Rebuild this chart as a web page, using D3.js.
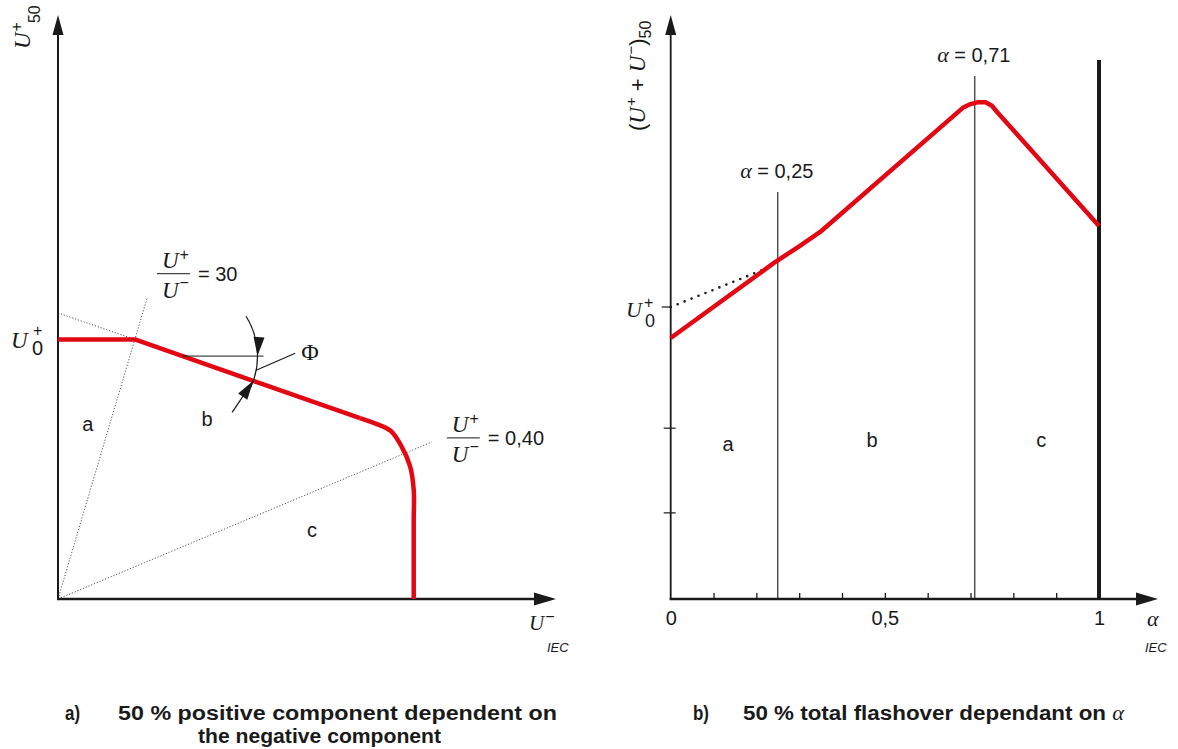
<!DOCTYPE html>
<html>
<head>
<meta charset="utf-8">
<style>
	body { margin: 0; background: #fff; }
	.sans { font-family: "Liberation Sans", Arial, sans-serif; fill: #1a1a1a; }
	.ital { font-family: "Liberation Serif", "Times New Roman", serif; font-style: italic; fill: #1a1a1a; }
	.cap { font-family: "Liberation Sans Narrow", "Arial Narrow", "Liberation Sans", sans-serif; font-weight: bold; fill: #1a1a1a; }
</style>
<title></title>
</head>
<body>
<div id="chart"></div>
<script src="https://d3js.org/d3.v7.min.js"></script>
<script type="text/javascript">

	// ---- a) U+ against U- (normalised: U0+ = 1, cut-off U- = 1)
	var curveA = [[0, 1], [0.216, 1], [0.849, 0.697], [0.900, 0.672], [0.935, 0.648],
		[0.965, 0.590], [0.990, 0.510], [1.0, 0.420], [1.0, 0.3], [1.0, 0]];
	var tangentA = [[0, 1.102], [0.216, 1]];
	var ratioLabels = ["30", "0,40"];
	var ratioEnds = [[0.25, 1.157], [1.051, 0.605]];
	var regionsA = ["a", "b", "c"];

	// ---- b) total 50 % flashover against alpha
	var curveB = [[0, 0.894], [0.244, 1.154], [0.300, 1.208], [0.349, 1.257], [0.682, 1.682],
		[0.700, 1.695], [0.716, 1.701], [0.735, 1.701], [0.750, 1.689], [0.762, 1.668], [1.0, 1.277]];
	var dottedB = [[0, 1.0], [0.22, 1.13]];
	var alphaMarks = [0.25, 0.71];
	var alphaLabels = ["0,25", "0,71"];
	var alphaTops = [1.394, 1.791];
	var endTop = 1.846;
	var xTicksB = [0.1, 0.2, 0.3, 0.4, 0.5, 0.6, 0.7, 0.8, 0.9];
	var xLabelsB = [0, 0.5, 1];
	var yTicksB = [0.295, 0.585];
	var regionsB = ["a", "b", "c"];

	var ink = "#1a1a1a", red = "#e30613";

	var svg = d3.select("#chart").append("svg")
		.attr("width", 1178)
		.attr("height", 749);

	var xA = d3.scaleLinear().domain([0, 1.4]).range([58, 556]);
	var yA = d3.scaleLinear().domain([0, 2.25]).range([599, 15]);
	var xB = d3.scaleLinear().domain([0, 1]).range([670.7, 1099]);
	var yB = d3.scaleLinear().domain([0, 2]).range([599, 15]);

	var comma = d3.formatLocale({decimal: ",", thousands: ".", grouping: [3], currency: ["", ""]}).format("~g");

	function arrow(g, x, y, ang, len, hw) {
		var c = Math.cos(ang), s = Math.sin(ang);
		var bx = x - len * c, by = y - len * s;
		g.append("path")
			.attr("d", "M" + x + "," + y + "L" + (bx - hw * s) + "," + (by + hw * c) +
				"L" + (bx + hw * s) + "," + (by - hw * c) + "Z")
			.attr("fill", ink);
	}

	function seg(g, x1, y1, x2, y2, w) {
		return g.append("line")
			.attr("x1", x1).attr("y1", y1).attr("x2", x2).attr("y2", y2)
			.attr("stroke", ink).attr("stroke-width", w);
	}

	//========== panel a
	var ga = svg.append("g");

	// dotted helper lines
	var lineA = d3.line().x(function(d){ return xA(d[0]); }).y(function(d){ return yA(d[1]); });
	ratioEnds.forEach(function(e){
		ga.append("path").attr("d", lineA([[0, 0], e]))
			.attr("fill", "none").attr("stroke", "#555").attr("stroke-width", 1)
			.attr("stroke-dasharray", "1.2,1.8");
	});
	ga.append("path").attr("d", lineA(tangentA))
		.attr("fill", "none").attr("stroke", "#555").attr("stroke-width", 1)
		.attr("stroke-dasharray", "1.2,1.8");

	// axes
	seg(ga, xA(0), yA(0) + 1, xA(0), 30, 2);
	arrow(ga, xA(0), 15, -Math.PI / 2, 20, 5.5);
	seg(ga, xA(0) - 1, yA(0), 540, yA(0), 2.4);
	arrow(ga, 556, yA(0), 0, 22, 6.5);

	// red characteristic: straight start, rounded knee
	var smoothA = d3.line().x(function(d){ return xA(d[0]); }).y(function(d){ return yA(d[1]); })
		.curve(d3.curveCatmullRom.alpha(0.5));
	ga.append("path").attr("d", lineA(curveA.slice(0, 3)))
		.attr("fill", "none").attr("stroke", red).attr("stroke-width", 4.5)
		.attr("stroke-linejoin", "round");
	ga.append("path").attr("d", smoothA(curveA.slice(2)))
		.attr("fill", "none").attr("stroke", red).attr("stroke-width", 4.5)
		.attr("stroke-linejoin", "round");

	// angle phi
	var p1 = curveA[1], p2 = curveA[2];
	var cxv = 0.35;
	var cyv = p1[1] + (cxv - p1[0]) / (p2[0] - p1[0]) * (p2[1] - p1[1]);
	var cx = xA(cxv), cy = yA(cyv);
	var redAng = Math.atan2(yA(p2[1]) - yA(p1[1]), xA(p2[0]) - xA(p1[0]));
	var r = 75;
	seg(ga, cx, cy, cx + 81, cy, 1);
	var arcP = d3.path();
	arcP.arc(cx, cy, r, -0.56, redAng + 0.1);
	ga.append("path").attr("d", arcP.toString()).attr("fill", "none").attr("stroke", ink).attr("stroke-width", 1.2);
	arrow(ga, cx + r, cy, Math.PI / 2 + 0.08, 19, 5.5);
	var tipX = cx + r * Math.cos(redAng), tipY = cy + r * Math.sin(redAng);
	var dirB = -0.98;
	arrow(ga, tipX, tipY, dirB, 19, 5.5);
	seg(ga, tipX - 38 * Math.cos(dirB), tipY - 38 * Math.sin(dirB), tipX - 10 * Math.cos(dirB), tipY - 10 * Math.sin(dirB), 1.2);
	var la = 0.19;
	var lx = cx + r * Math.cos(la), ly = cy + r * Math.sin(la);
	seg(ga, lx, ly, lx + 39, ly - 17, 1.2);
	ga.append("text").attr("x", lx + 45).attr("y", ly - 10)
		.style("font-family", "'Liberation Serif', serif").style("font-size", "24px").style("fill", ink)
		.text("\u03a6");

	// ratio labels
	function fraction(g, x, yBar, w, rhs) {
		var t = g.append("text").attr("x", x + 5).attr("y", yBar - 6);
		t.append("tspan").attr("class", "ital").style("font-size", "23px").text("U");
		t.append("tspan").attr("class", "sans").style("font-size", "16px").attr("dx", 1).attr("dy", -8).text("+");
		seg(g, x, yBar, x + w, yBar, 1.2).attr("stroke", "#444");
		var b = g.append("text").attr("x", x + 5).attr("y", yBar + 24);
		b.append("tspan").attr("class", "ital").style("font-size", "23px").text("U");
		b.append("tspan").attr("class", "sans").style("font-size", "16px").attr("dx", 1).attr("dy", -10).text("\u2212");
		g.append("text").attr("class", "sans").attr("x", x + w + 8).attr("y", yBar + 7)
			.style("font-size", "20px").text("= " + rhs);
	}
	fraction(ga, xA(ratioEnds[0][0]) + 10, yA(ratioEnds[0][1]) - 25, 33, ratioLabels[0]);
	fraction(ga, xA(ratioEnds[1][0]) + 15, yA(ratioEnds[1][1]) - 4, 33, ratioLabels[1]);

	// region letters
	var posA = [[0.084, 0.647], [0.419, 0.666], [0.714, 0.239]];
	regionsA.forEach(function(n, i){
		ga.append("text").attr("class", "sans").attr("text-anchor", "middle")
			.attr("x", xA(posA[i][0])).attr("y", yA(posA[i][1]))
			.style("font-size", "20px").text(n);
	});

	// U0+ label
	ga.append("text").attr("class", "ital").attr("x", 11).attr("y", yA(1) + 9).style("font-size", "23px").text("U");
	ga.append("text").attr("class", "sans").attr("x", 33).attr("y", yA(1) - 3).style("font-size", "16px").text("+");
	ga.append("text").attr("class", "sans").attr("x", 32).attr("y", yA(1) + 16).style("font-size", "20px").text("0");

	// y label U+50
	var yl = ga.append("text").attr("transform", "translate(30,49) rotate(-90)");
	yl.append("tspan").attr("class", "ital").style("font-size", "23px").text("U");
	yl.append("tspan").attr("class", "sans").style("font-size", "16px").attr("dx", 1).attr("dy", -8).text("+");
	yl.append("tspan").attr("class", "sans").style("font-size", "16px").attr("dx", -1).attr("dy", 18).text("50");

	// x label U- IEC
	var xl = ga.append("text").attr("x", 529).attr("y", 630);
	xl.append("tspan").attr("class", "ital").style("font-size", "21px").text("U");
	xl.append("tspan").attr("class", "sans").style("font-size", "16px").attr("dx", 1).attr("dy", -8).text("\u2212");
	ga.append("text").attr("class", "sans").attr("x", 547).attr("y", 652)
		.style("font-size", "13px").style("font-style", "italic").text("IEC");

	//========== panel b
	var gb = svg.append("g");
	var lineB = d3.line().x(function(d){ return xB(d[0]); }).y(function(d){ return yB(d[1]); });

	// alpha markers
	alphaMarks.forEach(function(a, i){
		seg(gb, xB(a), yB(0), xB(a), yB(alphaTops[i]), 1.1);
		var t = gb.append("text").attr("x", xB(a) - 1).attr("y", yB(alphaTops[i]) - 14)
			.attr("text-anchor", "middle");
		t.append("tspan").attr("class", "ital").style("font-size", "22px").text("\u03b1");
		t.append("tspan").attr("class", "sans").style("font-size", "20px").text(" = " + alphaLabels[i]);
	});
	seg(gb, xB(1), yB(0), xB(1), yB(endTop), 4);

	// axes
	seg(gb, xB(0), yB(0) + 1, xB(0), 30, 1.8);
	arrow(gb, xB(0), 15, -Math.PI / 2, 20, 5.5);
	seg(gb, xB(0) - 1, yB(0), 1140, yB(0), 2.4);
	arrow(gb, 1158, yB(0), 0, 22, 6.5);

	// x ticks (pointing up) and labels
	var tickAxis = gb.append("g").attr("transform", "translate(0," + yB(0) + ")")
		.call(d3.axisBottom(xB).tickValues(xTicksB).tickSize(-6).tickFormat(""));
	tickAxis.select(".domain").remove();
	tickAxis.selectAll("line").attr("stroke", ink).attr("stroke-width", 1.3);
	var labAxis = gb.append("g").attr("transform", "translate(0," + yB(0) + ")")
		.call(d3.axisBottom(xB).tickValues(xLabelsB).tickSize(0).tickPadding(12).tickFormat(comma));
	labAxis.select(".domain").remove();
	labAxis.selectAll("text").attr("class", "sans").style("font-size", "20px").attr("fill", ink);

	// y ticks crossing the axis
	yTicksB.forEach(function(v){
		seg(gb, xB(0) - 7, yB(v), xB(0) + 5, yB(v), 1.2);
	});
	seg(gb, xB(0) - 9, yB(1), xB(0), yB(1), 1.2);

	// dotted extension and red curve
	gb.append("path").attr("d", lineB(dottedB))
		.attr("fill", "none").attr("stroke", ink).attr("stroke-width", 2.6)
		.attr("stroke-linecap", "round").attr("stroke-dasharray", "0,7.5");
	gb.append("path").attr("d", lineB(curveB))
		.attr("fill", "none").attr("stroke", red).attr("stroke-width", 4.5)
		.attr("stroke-linejoin", "round");

	// region letters
	var posB = [[0.134, 0.507], [0.470, 0.521], [0.865, 0.521]];
	regionsB.forEach(function(n, i){
		gb.append("text").attr("class", "sans").attr("text-anchor", "middle")
			.attr("x", xB(posB[i][0])).attr("y", yB(posB[i][1]))
			.style("font-size", "20px").text(n);
	});

	// U0+ label
	gb.append("text").attr("class", "ital").attr("x", 626).attr("y", yB(1) + 10).style("font-size", "22px").text("U");
	gb.append("text").attr("class", "sans").attr("x", 644).attr("y", yB(1) + 1).style("font-size", "16px").text("+");
	gb.append("text").attr("class", "sans").attr("x", 645).attr("y", yB(1) + 20).style("font-size", "18px").text("0");

	// y label (U+ + U-)50
	var yr = gb.append("text").attr("transform", "translate(645,131) rotate(-90)");
	yr.append("tspan").attr("class", "sans").style("font-size", "22px").text("(");
	yr.append("tspan").attr("class", "ital").style("font-size", "23px").text("U");
	yr.append("tspan").attr("class", "sans").style("font-size", "15px").attr("dx", 1).attr("dy", -9).text("+");
	yr.append("tspan").attr("class", "sans").style("font-size", "22px").attr("dy", 9).text(" + ");
	yr.append("tspan").attr("class", "ital").style("font-size", "23px").text("U");
	yr.append("tspan").attr("class", "sans").style("font-size", "15px").attr("dx", 1).attr("dy", -9).text("\u2212");
	yr.append("tspan").attr("class", "sans").style("font-size", "22px").attr("dy", 9).text(")");
	yr.append("tspan").attr("class", "sans").style("font-size", "16px").attr("dy", 6).text("50");

	// x label alpha IEC
	gb.append("text").attr("class", "ital").attr("x", 1147).attr("y", 626).style("font-size", "22px").text("\u03b1");
	gb.append("text").attr("class", "sans").attr("x", 1145).attr("y", 652)
		.style("font-size", "13px").style("font-style", "italic").text("IEC");

	//========== captions
	function cap(x, y, s, len) {
		return svg.append("text").attr("class", "cap").attr("x", x).attr("y", y)
			.style("font-size", "20px")
			.attr("textLength", len).attr("lengthAdjust", "spacingAndGlyphs")
			.text(s);
	}
	cap(65, 720, "a)", 15);
	cap(118, 720, "50 % positive component dependent on", 439);
	cap(198, 743, "the negative component", 243);
	cap(693, 720, "b)", 16);
	var cb = svg.append("text").attr("class", "cap").attr("x", 743).attr("y", 720)
		.style("font-size", "20px").attr("textLength", 381).attr("lengthAdjust", "spacingAndGlyphs");
	cb.append("tspan").text("50 % total flashover dependant on ");
	cb.append("tspan").style("font-family", "'Liberation Serif', serif").style("font-style", "italic").style("font-weight", "normal").text("\u03b1");

</script>
</body>
</html>
